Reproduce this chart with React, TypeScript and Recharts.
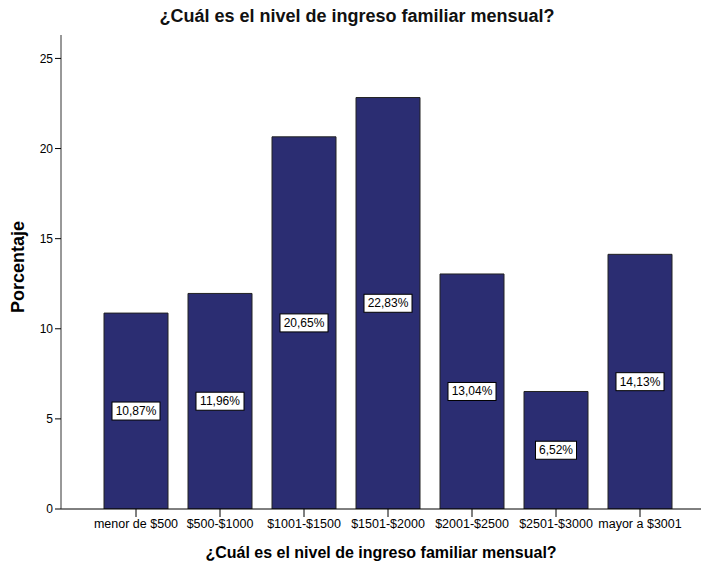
import { BarChart, Bar, XAxis, YAxis, LabelList, Label } from "recharts";

const categories = [
  "menor de $500",
  "$500-$1000",
  "$1001-$1500",
  "$1501-$2000",
  "$2001-$2500",
  "$2501-$3000",
  "mayor a $3001",
];
const percentages = [10.87, 11.96, 20.65, 22.83, 13.04, 6.52, 14.13];
const yTicks = [0, 5, 10, 15, 20, 25];

const TITLE = "¿Cuál es el nivel de ingreso familiar mensual?";
const FONT = '"Liberation Sans", Arial, sans-serif';
const BAR_COLOR = "#2b2d72";

const data = categories.map((name, i) => ({ name, value: percentages[i] }));

// white box label in the middle of the bar, like SPSS
const BoxLabel = (props: any) => {
  const { x, y, width, height, value } = props;
  const text = value.toFixed(2).replace(".", ",") + "%";
  const cx = x + width / 2;
  const cy = y + height / 2;
  const w = text.length * 7 + 6;
  return (
    <g>
      <rect x={cx - w / 2} y={cy - 9} width={w} height={18} fill="#fff" stroke="#000" strokeWidth={1} />
      <text x={cx} y={cy + 4} textAnchor="middle" fontSize={12} fontFamily={FONT} fill="#000">
        {text}
      </text>
    </g>
  );
};

export default function App() {
  return (
    <div style={{ position: "absolute", left: 0, top: 0, width: 701, height: 562, background: "#fff", fontFamily: FONT }}>
      <div
        style={{
          position: "absolute",
          left: 0,
          top: 6,
          width: 714,
          textAlign: "center",
          fontSize: 18,
          fontWeight: "bold",
          color: "#111",
        }}
      >
        {TITLE}
      </div>
      <BarChart
        width={701}
        height={562}
        data={data}
        margin={{ top: 35, right: 0, bottom: 0, left: 0 }}
        barSize={64}
      >
        <XAxis
          xAxisId="top"
          orientation="top"
          dataKey="name"
          height={0}
          tick={false}
          tickLine={false}
          axisLine={{ stroke: "#808080", strokeWidth: 2 }}
        />
        <XAxis
          dataKey="name"
          height={53}
          interval={0}
          padding={{ left: 33, right: 19 }}
          tickSize={8}
          tickMargin={2}
          tick={{ fontSize: 12.5, fill: "#000", fontFamily: FONT }}
          axisLine={{ stroke: "#000" }}
          tickLine={{ stroke: "#000" }}
        >
          <Label
            value={TITLE}
            position="insideBottom"
            offset={4}
            style={{ fontSize: 16, fontWeight: "bold", fill: "#000", fontFamily: FONT }}
          />
        </XAxis>
        <YAxis
          width={61}
          domain={[0, 26.3]}
          ticks={yTicks}
          allowDataOverflow
          tickSize={6}
          tickMargin={2}
          tick={{ fontSize: 12, fill: "#000", fontFamily: FONT }}
          axisLine={{ stroke: "#333" }}
          tickLine={{ stroke: "#000" }}
        >
          <Label
            value="Porcentaje"
            angle={-90}
            position="insideLeft"
            offset={18}
            dy={-5}
            style={{ fontSize: 18, fontWeight: "bold", fill: "#000", fontFamily: FONT, textAnchor: "middle" }}
          />
        </YAxis>
        <Bar dataKey="value" fill={BAR_COLOR} stroke="#222" strokeWidth={1} isAnimationActive={false}>
          <LabelList dataKey="value" content={BoxLabel} />
        </Bar>
      </BarChart>
    </div>
  );
}
